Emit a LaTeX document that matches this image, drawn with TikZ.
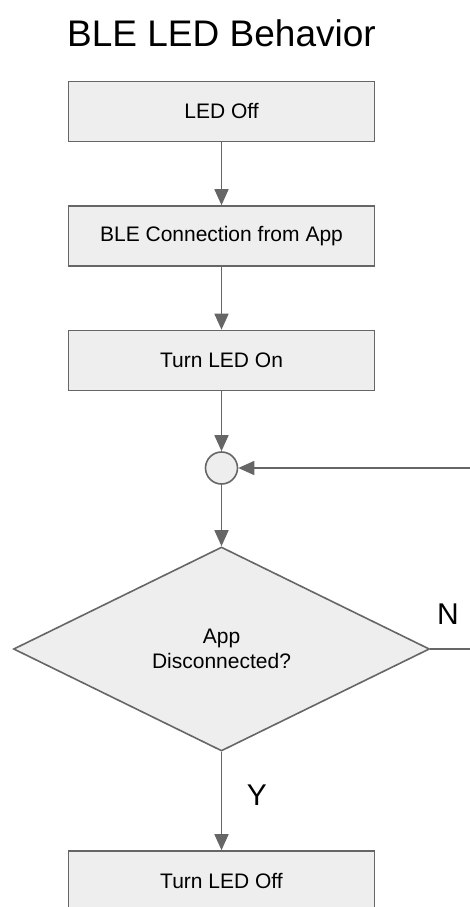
\documentclass[tikz,border=0pt]{standalone}
\usepackage{fontspec}
\setmainfont{Liberation Sans}
\usetikzlibrary{arrows.meta,shapes.geometric}
\definecolor{edge}{HTML}{666666}
\definecolor{boxfill}{HTML}{EEEEEE}
\tikzset{
  stepbox/.style={draw=edge, fill=boxfill, line width=1.6bp, minimum width=306bp,
    minimum height=60bp, inner sep=0pt, font=\fontsize{21bp}{25bp}\selectfont},
  decision/.style={diamond, draw=edge, fill=boxfill, line width=1.6bp,
    minimum width=416bp, minimum height=204bp, inner sep=0pt, align=center,
    font=\fontsize{21bp}{25bp}\selectfont},
  junction/.style={circle, draw=edge, fill=boxfill, line width=1.6bp,
    minimum size=32bp, inner sep=0pt},
  flow/.style={draw=edge, line width=1.6bp,
    -{Triangle[length=16bp,width=14bp]}},
  plainflow/.style={draw=edge, line width=1.6bp},
  branch/.style={font=\fontsize{30bp}{36bp}\selectfont}
}
\begin{document}
\begin{tikzpicture}[x=1bp,y=-1bp]
  \clip (0,0) rectangle (470,907);
  \fill[white] (0,0) rectangle (470,907);

  \node[font=\fontsize{37bp}{44bp}\selectfont] (title) at (221.5,33) {BLE LED Behavior};

  \node[stepbox] (off)  at (221.5,111.5) {LED Off};
  \node[stepbox] (conn) at (221.5,236)   {BLE Connection from App};
  \node[stepbox] (on)   at (221.5,360.5) {Turn LED On};
  \node[junction] (jn)  at (221.5,468) {};
  \node[decision] (dec) at (221.5,649) {App\\Disconnected?};
  \node[stepbox] (off2) at (221.5,881) {Turn LED Off};

  \coordinate (nout) at (472,649);
  \coordinate (nin)  at (472,468);

  \draw[flow] (off) -- (conn);
  \draw[flow] (conn) -- (on);
  \draw[flow] (on) -- (jn);
  \draw[flow] (jn) -- (dec);
  \draw[flow] (dec) -- (off2);
  \draw[plainflow] (dec.east) -- (nout);
  \draw[flow] (nin) -- (jn);

  \node[branch] (nlabel) at (448,614) {N};
  \node[branch] (ylabel) at (257,795) {Y};
\end{tikzpicture}
\end{document}
